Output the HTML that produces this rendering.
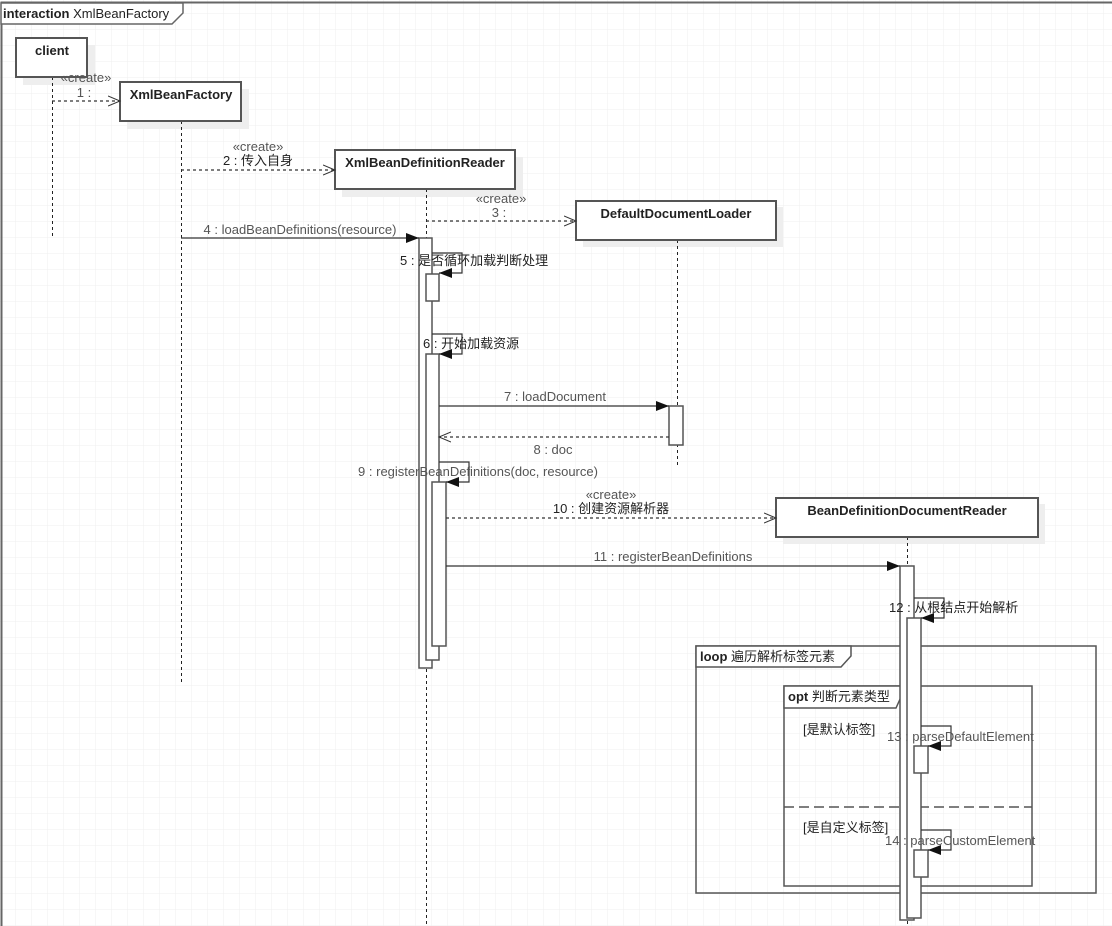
<!DOCTYPE html>
<html><head><meta charset="utf-8"><style>
html,body{margin:0;padding:0;background:#fff;}
svg{display:block;}
text{font-family:"Liberation Sans","Noto Sans CJK SC",sans-serif;font-size:13px;fill:#222;}
.b{font-weight:bold;}
.g{fill:#555;}
</style></head><body>
<svg width="1112" height="926" viewBox="0 0 1112 926" xmlns="http://www.w3.org/2000/svg">
<defs>
<pattern id="grid" x="0" y="14" width="16" height="16" patternUnits="userSpaceOnUse">
<path d="M16 0V16M0 16H16" stroke="#efefef" stroke-width="1" fill="none"/>
</pattern>
<marker id="fa" markerWidth="14" markerHeight="12" refX="13" refY="6" orient="auto" markerUnits="userSpaceOnUse"><path d="M0,1 L13,6 L0,11 Z" fill="#111"/></marker>
<marker id="oa" markerWidth="14" markerHeight="12" refX="12" refY="6" orient="auto" markerUnits="userSpaceOnUse"><path d="M0,1 L12,6 L0,11" fill="none" stroke="#333" stroke-width="1"/></marker>
</defs>
<rect width="1112" height="926" fill="#fff"/>
<rect width="1112" height="926" fill="url(#grid)"/>
<g stroke="#666" stroke-width="2" fill="none">
<path d="M1.5 926V2.5H1112"/>
</g>
<path d="M1 3H183V13L172 24H1Z" fill="#fff" stroke="#666" stroke-width="1.5"/>
<text x="3" y="18"><tspan class="b">interaction</tspan> XmlBeanFactory</text>

<g fill="#eee">
<rect x="23" y="45" width="72" height="40"/>
<rect x="127" y="89" width="122" height="40"/>
<rect x="342" y="157" width="181" height="40"/>
<rect x="583" y="207" width="200" height="40"/>
<rect x="783" y="504" width="262" height="40"/>
</g>
<g stroke="#222" stroke-width="1" stroke-dasharray="3,3">
<path d="M52.5 77V237"/>
<path d="M181.5 121V683"/>
<path d="M426.5 189V926"/>
<path d="M677.5 240V467"/>
<path d="M907.5 537V926"/>
</g>
<g fill="#fff" stroke="#555" stroke-width="2">
<rect x="16" y="38" width="71" height="39"/>
<rect x="120" y="82" width="121" height="39"/>
<rect x="335" y="150" width="180" height="39"/>
<rect x="576" y="201" width="200" height="39"/>
<rect x="776" y="498" width="262" height="39"/>
</g>
<g class="b" text-anchor="middle">
<text x="52" y="55" class="b">client</text>
<text x="181" y="99" class="b">XmlBeanFactory</text>
<text x="425" y="167" class="b">XmlBeanDefinitionReader</text>
<text x="676" y="218" class="b">DefaultDocumentLoader</text>
<text x="907" y="515" class="b">BeanDefinitionDocumentReader</text>
</g>

<g fill="none" stroke="#555" stroke-width="1.5">
<rect x="696" y="646" width="400" height="247"/>
<rect x="784" y="686" width="248" height="200"/>
<path d="M784 807H1032" stroke-dasharray="10,5"/>
</g>
<path d="M696 646H851V656L841 667H696Z" fill="#fff" stroke="#555" stroke-width="1.5"/>
<text x="700" y="661"><tspan class="b">loop</tspan> 遍历解析标签元素</text>
<path d="M784 686H901V697L896 708H784Z" fill="#fff" stroke="#555" stroke-width="1.5"/>
<text x="788" y="701"><tspan class="b">opt</tspan> 判断元素类型</text>
<text x="803" y="734">[是默认标签]</text>
<text x="803" y="832">[是自定义标签]</text>

<g fill="#fff" stroke="#555" stroke-width="1.5">
<rect x="419" y="238" width="13" height="430"/>
<rect x="426" y="274" width="13" height="27"/>
<rect x="426" y="354" width="13" height="306"/>
<rect x="432" y="482" width="14" height="164"/>
<rect x="669" y="406" width="14" height="39"/>
<rect x="900" y="566" width="14" height="354"/>
<rect x="907" y="618" width="14" height="300"/>
<rect x="914" y="746" width="14" height="27"/>
<rect x="914" y="850" width="14" height="27"/>
</g>

<g fill="none" stroke="#333" stroke-width="1.2">
<path d="M52 101H120" stroke-dasharray="3,3" marker-end="url(#oa)"/>
<path d="M181 170H335" stroke-dasharray="3,3" marker-end="url(#oa)"/>
<path d="M426 221H576" stroke-dasharray="3,3" marker-end="url(#oa)"/>
<path d="M181 238H419" marker-end="url(#fa)"/>
<path d="M432 253H462V273H439" marker-end="url(#fa)"/>
<path d="M432 334H462V354H439" marker-end="url(#fa)"/>
<path d="M439 406H669" marker-end="url(#fa)"/>
<path d="M669 437H439" stroke-dasharray="3,3" marker-end="url(#oa)"/>
<path d="M439 462H469V482H446" marker-end="url(#fa)"/>
<path d="M446 518H776" stroke-dasharray="3,3" marker-end="url(#oa)"/>
<path d="M446 566H900" marker-end="url(#fa)"/>
<path d="M914 598H944V618H921" marker-end="url(#fa)"/>
<path d="M921 726H951V746H928" marker-end="url(#fa)"/>
<path d="M921 830H951V850H928" marker-end="url(#fa)"/>
</g>

<g text-anchor="middle">
<text x="86" y="82" class="g">«create»</text>
<text x="84" y="97" class="g">1 :</text>
<text x="258" y="151" class="g">«create»</text>
<text x="258" y="165">2 : 传入自身</text>
<text x="501" y="203" class="g">«create»</text>
<text x="499" y="217" class="g">3 :</text>
<text x="300" y="234" class="g">4 : loadBeanDefinitions(resource)</text>
<text x="555" y="401" class="g">7 : loadDocument</text>
<text x="553" y="454" class="g">8 : doc</text>
<text x="478" y="476" class="g">9 : registerBeanDefinitions(doc, resource)</text>
<text x="611" y="499" class="g">«create»</text>
<text x="611" y="513">10 : 创建资源解析器</text>
<text x="673" y="561" class="g">11 : registerBeanDefinitions</text>
</g>
<text x="400" y="265">5 : 是否循环加载判断处理</text>
<text x="423" y="348">6 : 开始加载资源</text>
<text x="889" y="612">12 : 从根结点开始解析</text>
<text x="887" y="741" class="g">13 : parseDefaultElement</text>
<text x="885" y="845" class="g">14 : parseCustomElement</text>
</svg>
</body></html>
